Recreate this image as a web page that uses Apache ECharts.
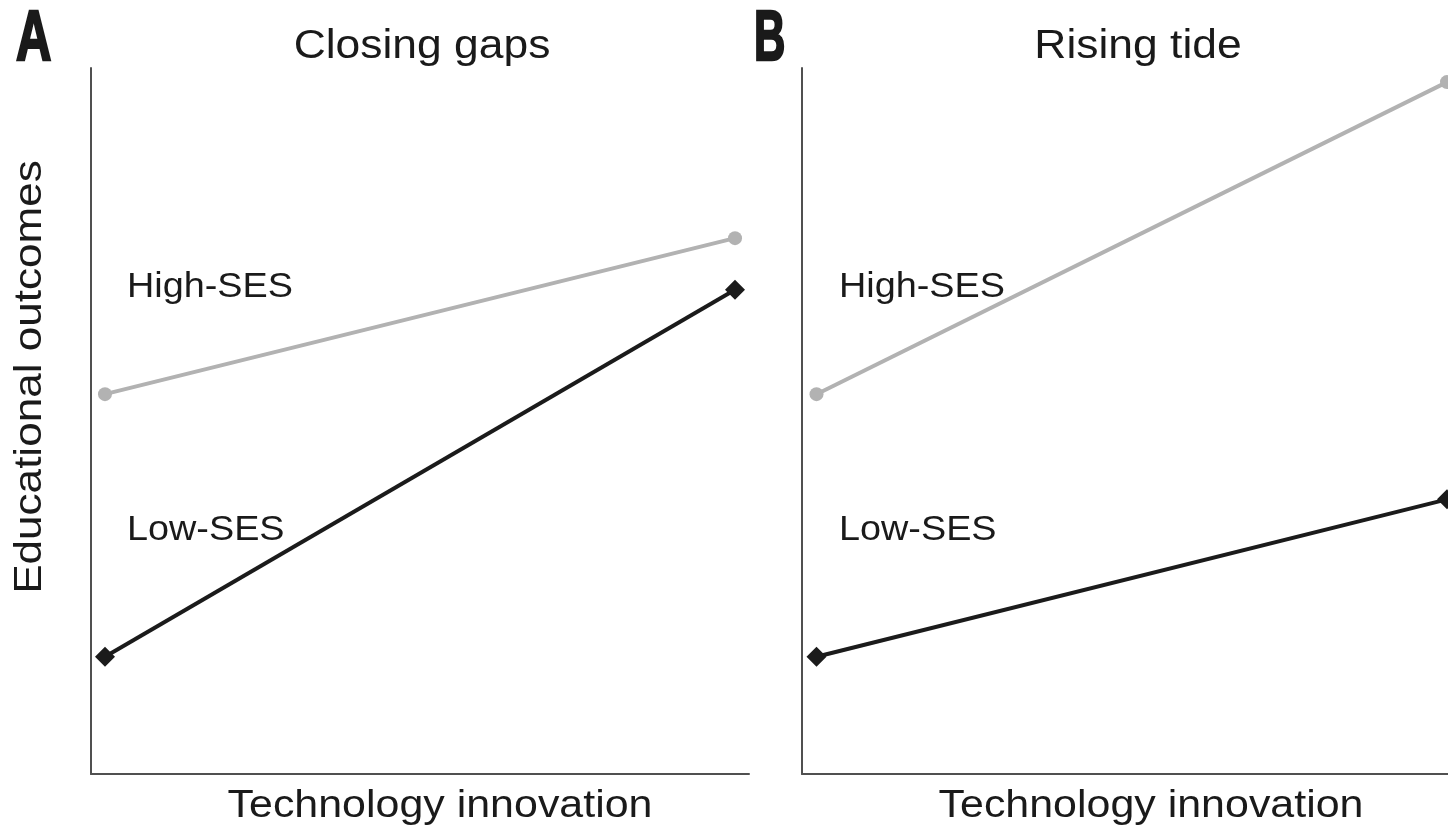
<!DOCTYPE html>
<html>
<head>
<meta charset="utf-8">
<script src="https://cdn.jsdelivr.net/npm/echarts@6/dist/echarts.min.js"></script>
<style>
html,body{margin:0;padding:0;background:#fff;}
#chart{width:1448px;height:831px;}
</style>
</head>
<body>
<div id="chart"></div>
<script>
// Data (arbitrary 0-100 outcome scale)
const innovationLevels = [0, 1];
const panelTitles = ['Closing gaps', 'Rising tide'];
const panelLetters = ['A', 'B'];
const groupNames = ['High-SES', 'Low-SES'];
const closingHigh = [53.8, 75.9];
const closingLow = [16.6, 68.6];
const risingHigh = [53.8, 98.0];
const risingLow = [16.6, 38.9];

const FONT = '"Liberation Sans", Arial, Helvetica, sans-serif';
const grayC = '#b2b2b2';
const blackC = '#1b1b1b';
const axisC = '#505050';

function pairs(xs, ys) { return xs.map((x, i) => [x, ys[i]]); }

const chart = echarts.init(document.getElementById('chart'), null, {renderer: 'canvas'});

const axisCommon = {
  axisTick: {show: false},
  axisLabel: {show: false},
  splitLine: {show: false},
  axisLine: {show: true, onZero: false, lineStyle: {color: axisC, width: 2}}
};

function lineSeries(idx, name, data, color, symbol, size) {
  return {
    type: 'line', name: name, xAxisIndex: idx, yAxisIndex: idx,
    data: pairs(innovationLevels, data),
    symbol: symbol, symbolSize: size, showAllSymbol: true,
    lineStyle: {color: color, width: 4},
    itemStyle: {color: color},
    clip: false, z: 3
  };
}

function txt(x, y, text, font, align, sx, rot, strokeW) {
  const el = {
    type: 'text', x: x, y: y, silent: true, scaleX: sx || 1,
    style: {text: text, fill: '#1a1a1a', font: font, align: align || 'left', verticalAlign: 'middle'}
  };
  if (strokeW) { el.style.stroke = '#1a1a1a'; el.style.lineWidth = strokeW; }
  if (rot) el.rotation = rot;
  return el;
}

const letterFont = 'bold 70px ' + FONT;
const option = {
  animation: false,
  backgroundColor: '#ffffff',
  grid: [
    {left: 91, top: 68, width: 658, height: 706},
    {left: 802, top: 68, width: 646, height: 706}
  ],
  xAxis: [
    Object.assign({type: 'value', gridIndex: 0, min: -0.0222, max: 1.0222}, axisCommon),
    Object.assign({type: 'value', gridIndex: 1, min: -0.0230, max: 1.0016}, axisCommon)
  ],
  yAxis: [
    Object.assign({type: 'value', gridIndex: 0, min: 0, max: 100}, axisCommon),
    Object.assign({type: 'value', gridIndex: 1, min: 0, max: 100}, axisCommon)
  ],
  series: [
    lineSeries(0, groupNames[0], closingHigh, grayC, 'circle', 14),
    lineSeries(0, groupNames[1], closingLow, blackC, 'diamond', 20),
    lineSeries(1, groupNames[0], risingHigh, grayC, 'circle', 14),
    lineSeries(1, groupNames[1], risingLow, blackC, 'diamond', 20)
  ],
  graphic: [
    txt(16, 41, panelLetters[0], letterFont, 'left', 0.7, 0, 2.5),
    txt(754, 41, panelLetters[1], letterFont, 'left', 0.62, 0, 2.5),
    txt(422, 47, panelTitles[0], '40px ' + FONT, 'center', 1.11),
    txt(1138, 47, panelTitles[1], '40px ' + FONT, 'center', 1.11),
    txt(127, 287, groupNames[0], '35px ' + FONT, 'left', 1.08),
    txt(127, 530, groupNames[1], '35px ' + FONT, 'left', 1.08),
    txt(839, 287, groupNames[0], '35px ' + FONT, 'left', 1.08),
    txt(839, 530, groupNames[1], '35px ' + FONT, 'left', 1.08),
    txt(440, 807, 'Technology innovation', '38px ' + FONT, 'center', 1.13),
    txt(1151, 807, 'Technology innovation', '38px ' + FONT, 'center', 1.13),
    txt(31, 377, 'Educational outcomes', '38px ' + FONT, 'center', 1.16, Math.PI / 2)
  ]
};
chart.setOption(option);
</script>
</body>
</html>
